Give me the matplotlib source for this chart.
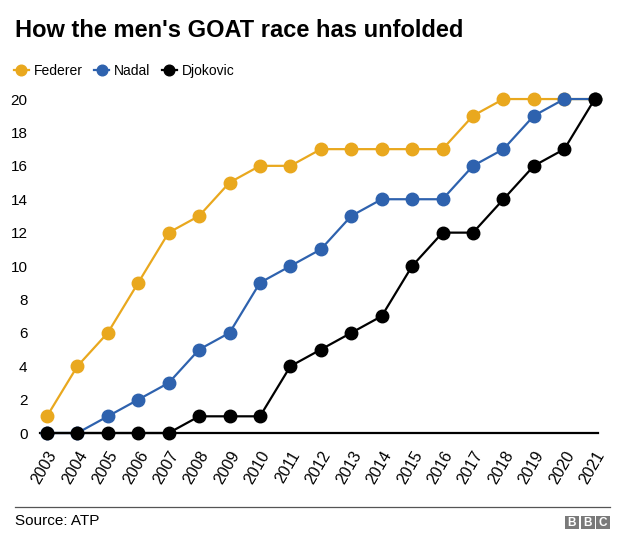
"""How the men's GOAT race has unfolded - grand slam titles by year."""

import matplotlib.pyplot as plt
from matplotlib.patches import Rectangle

plt.rcParams["font.family"] = ["Liberation Sans", "DejaVu Sans"]

years = list(range(2003, 2022))
federer = [1, 4, 6, 9, 12, 13, 15, 16, 16, 17, 17, 17, 17, 17, 19, 20, 20, 20, 20]
nadal = [0, 0, 1, 2, 3, 5, 6, 9, 10, 11, 13, 14, 14, 14, 16, 17, 19, 20, 20]
djokovic = [0, 0, 0, 0, 0, 1, 1, 1, 4, 5, 6, 7, 10, 12, 12, 14, 16, 17, 20]

series = [
    ("Federer", federer, "#E9A81E"),
    ("Nadal", nadal, "#2E62AE"),
    ("Djokovic", djokovic, "#000000"),
]


def main() -> None:
    fig = plt.figure(figsize=(6.24, 5.5), dpi=100)
    ax = fig.add_axes([0.064, 0.2127, 0.894, 0.6145])

    for z, (name, values, color) in enumerate(series):
        ax.plot(years, values, color=color, lw=1.6, marker="o", markersize=9,
                label=name, zorder=3 + z, clip_on=False)

    ax.set_xlim(2002.77, 2021.1)
    ax.set_ylim(0, 20.24)
    ax.set_yticks(range(0, 21, 2))
    ax.set_xticks(years)
    ax.set_xticklabels([str(y) for y in years], rotation=60, ha="right",
                       rotation_mode="anchor", fontsize=11.5)
    ax.tick_params(axis="y", labelsize=11, length=0, pad=9)
    ax.tick_params(axis="x", length=0, pad=11)
    for side in ["top", "right", "left"]:
        ax.spines[side].set_visible(False)
    ax.spines["bottom"].set_linewidth(1.6)
    ax.spines["bottom"].set_color("black")

    fig.text(0.024, 0.945, "How the men's GOAT race has unfolded", fontsize=17,
             fontweight="bold", va="center", ha="left")

    ax.legend(loc="lower left", bbox_to_anchor=(-0.057, 1.035), ncol=3,
              frameon=False, fontsize=10, handlelength=1.1, handletextpad=0.35,
              columnspacing=0.8, markerscale=0.85, borderaxespad=0)

    fig.add_artist(plt.Line2D([0.024, 0.978], [0.078, 0.078], color="#555555",
                              lw=0.9, transform=fig.transFigure))
    fig.text(0.024, 0.052, "Source: ATP", fontsize=11, va="center", ha="left")

    for i, letter in enumerate("BBC"):
        x0 = (565 + i * 15.5) / 624
        fig.add_artist(Rectangle((x0, 21 / 550), 14 / 624, 13 / 550,
                                 transform=fig.transFigure, color="#7a7a7a", lw=0))
        fig.text(x0 + 7 / 624, 27.5 / 550, letter, fontsize=8.5, fontweight="bold",
                 color="white", ha="center", va="center")

    fig.savefig("out.png", dpi=100)


if __name__ == "__main__":
    main()
